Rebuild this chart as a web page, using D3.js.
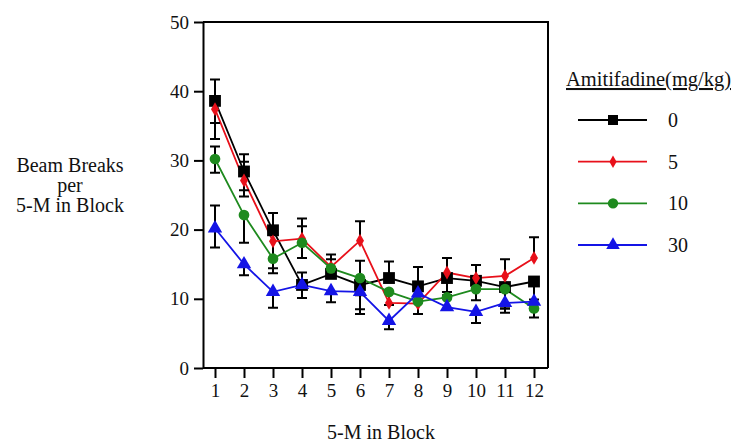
<!DOCTYPE html>
<html lang="en">
<head>
    <meta charset="UTF-8">
    <title>Amitifadine beam breaks</title>
    <script src="https://d3js.org/d3.v7.min.js"></script>
    <style>
        body { margin: 0; background: #fff; }
        text { font-family: "Liberation Serif", "Times New Roman", serif; fill: #111; }
        .axis path, .axis line { stroke: #000; stroke-width: 2px; }
        .axis text { font-size: 19px; font-family: "Liberation Serif", serif; }
    </style>
</head>
<body>
<svg width="731" height="442"></svg>

<script>
    // blocks on the x axis
    const blocks = [1, 2, 3, 4, 5, 6, 7, 8, 9, 10, 11, 12];
    const yTicks = [0, 10, 20, 30, 40, 50];
    const doses = ["0", "5", "10", "30"];

    // means per dose
    const dose0  = [38.6, 28.4, 19.9, 12.0, 13.6, 12.0, 13.0, 11.8, 13.0, 12.6, 11.7, 12.5];
    const dose5  = [37.4, 27.1, 18.3, 18.7, 14.6, 18.4, 9.4, 9.3, 13.8, 13.0, 13.3, 15.9];
    const dose10 = [30.2, 22.1, 15.8, 18.1, 14.4, 13.0, 11.0, 9.6, 10.2, 11.4, 11.4, 8.6];
    const dose30 = [20.2, 15.0, 11.0, 12.0, 11.1, 11.0, 6.8, 10.8, 8.8, 8.1, 9.4, 9.6];

    // error bars, only the drawn half (0 = not shown)
    const up0    = [3.1, 2.5, 2.5, 1.8, 0, 0, 2.4, 2.8, 2.9, 2.3, 0, 0];
    const down0  = [3.2, 3.6, 0, 1.9, 0, 3.5, 0, 0, 2.0, 0, 3.1, 2.6];
    const up5    = [0, 2.7, 0, 2.9, 1.8, 2.8, 0, 0, 0, 1.9, 2.4, 3.0];
    const down5  = [4.3, 1.4, 3.9, 0, 0, 0, 0, 1.5, 3.3, 0, 0, 0];
    const up10   = [1.8, 0, 0, 2.4, 1.3, 2.5, 0, 0, 0, 0, 0, 0];
    const down10 = [2.0, 4.0, 2.1, 2.2, 0, 2.5, 1.9, 1.8, 0, 1.6, 2.8, 1.3];
    const up30   = [3.3, 0, 0, 0, 0, 0, 0, 0, 0, 0, 0, 0];
    const down30 = [2.8, 1.6, 2.3, 0, 1.6, 3.2, 1.2, 0, 0, 1.6, 1.4, 0];

    const colors = ["#000000", "#e8101a", "#1e8a1e", "#1414e6"];
    const symbols = [d3.symbolSquare, d3.symbolDiamond, d3.symbolCircle, d3.symbolTriangle];
    const symSize = [140, 55, 90, 90];

    const series = [
        {name: doses[0], values: dose0,  up: up0,  down: down0},
        {name: doses[1], values: dose5,  up: up5,  down: down5},
        {name: doses[2], values: dose10, up: up10, down: down10},
        {name: doses[3], values: dose30, up: up30, down: down30}
    ];

    const svg = d3.select("svg");
    const plotL = 203, plotR = 548, plotT = 22, plotB = 368;

    const x = d3.scaleLinear().domain([1, 12]).range([215, 534]);
    const y = d3.scaleLinear().domain([0, 50]).range([plotB, plotT]);

    // frame top and right
    svg.append("path")
        .attr("d", `M${plotL},${plotT}H${plotR}V${plotB}`)
        .attr("fill", "none").attr("stroke", "#000").attr("stroke-width", 2);

    svg.append("g").attr("class", "axis")
        .attr("transform", `translate(${plotL},0)`)
        .call(d3.axisLeft(y).tickValues(yTicks).tickSize(9).tickPadding(5).tickSizeOuter(0));

    const xAxis = svg.append("g").attr("class", "axis")
        .attr("transform", `translate(0,${plotB})`)
        .call(d3.axisBottom(x).tickValues(blocks).tickSize(10).tickPadding(6).tickSizeOuter(0));
    xAxis.select(".domain").attr("d", `M${plotL},0H${plotR}`);

    // lines
    const line = d3.line().x((d, i) => x(blocks[i])).y(d => y(d));
    series.forEach(function (s, k) {
        svg.append("path")
            .datum(s.values)
            .attr("d", line)
            .attr("fill", "none")
            .attr("stroke", colors[k])
            .attr("stroke-width", 1.8);
    });

    // error bars (black)
    const cap = 5;
    series.forEach(function (s) {
        s.values.forEach(function (v, i) {
            const cx = x(blocks[i]);
            [s.up[i], -s.down[i]].forEach(function (e) {
                if (!e) return;
                const ye = y(v + e);
                svg.append("path")
                    .attr("d", `M${cx},${y(v)}V${ye}M${cx - cap},${ye}H${cx + cap}`)
                    .attr("stroke", "#000")
                    .attr("stroke-width", 2)
                    .attr("fill", "none");
            });
        });
    });

    // markers
    series.forEach(function (s, k) {
        svg.append("g").selectAll("path")
            .data(s.values)
            .join("path")
            .attr("transform", (d, i) => `translate(${x(blocks[i])},${y(d)})`)
            .attr("d", d3.symbol().type(symbols[k]).size(symSize[k]))
            .attr("fill", colors[k]);
    });

    // axis titles
    const yTitle = svg.append("text")
        .attr("text-anchor", "middle")
        .style("font-size", "20px");
    ["Beam Breaks", "per", "5-M in Block"].forEach(function (t, i) {
        yTitle.append("tspan").attr("x", 70).attr("y", 172 + i * 20).text(t);
    });

    svg.append("text")
        .attr("x", 381).attr("y", 439)
        .attr("text-anchor", "middle")
        .style("font-size", "20px")
        .text("5-M in Block");

    // legend
    svg.append("text")
        .attr("x", 566).attr("y", 86)
        .style("font-size", "20.5px")
        .style("text-decoration", "underline")
        .text("Amitifadine(mg/kg)");

    const legY = d3.scalePoint().domain(doses).range([120, 245]);
    const legSize = [100, 45, 85, 80];
    const leg = svg.append("g").selectAll("g")
        .data(series)
        .join("g")
        .attr("transform", d => `translate(0,${legY(d.name)})`);
    leg.append("line")
        .attr("x1", 578).attr("x2", 647)
        .attr("stroke", (d, k) => colors[k])
        .attr("stroke-width", 1.8);
    leg.append("path")
        .attr("transform", "translate(613,0)")
        .attr("d", (d, k) => d3.symbol().type(symbols[k]).size(legSize[k])())
        .attr("fill", (d, k) => colors[k]);
    leg.append("text")
        .attr("x", 668).attr("y", 7)
        .style("font-size", "20px")
        .text(d => d.name);
</script>
</body>
</html>
